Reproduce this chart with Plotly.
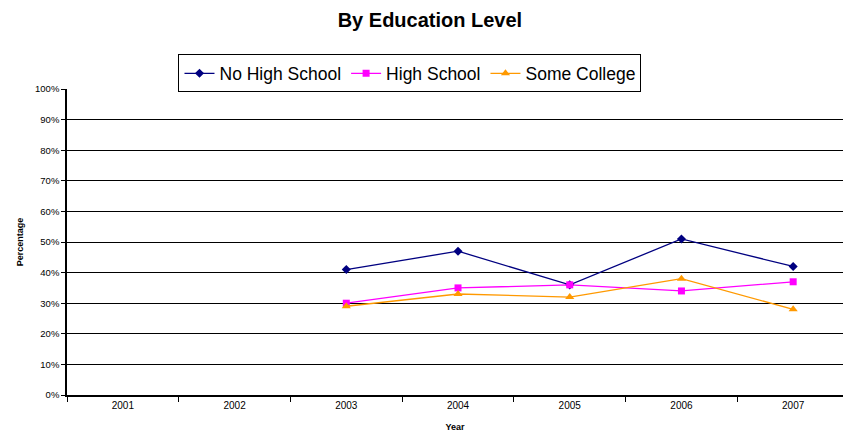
import plotly.graph_objects as go

years = ["2001", "2002", "2003", "2004", "2005", "2006", "2007"]
no_high_school = [None, None, 41, 47, 36, 51, 42]
high_school = [None, None, 30, 35, 36, 34, 37]
some_college = [None, None, 29, 33, 32, 38, 28]

y_ticks = list(range(0, 101, 10))
y_tick_labels = [f"{v}%" for v in y_ticks]

series = [
    ("No High School", no_high_school, "#000080", "diamond", 7),
    ("High School", high_school, "#FF00FF", "square", 7),
    ("Some College", some_college, "#FF9900", "triangle-up", 8),
]

fig = go.Figure()
for name, vals, color, symbol, size in series:
    fig.add_trace(go.Scatter(
        x=years, y=vals, name=name, mode="lines+markers",
        line=dict(color=color, width=1.3),
        marker=dict(symbol=symbol, size=size, color=color),
        connectgaps=False,
    ))

fig.update_layout(
    width=843, height=438,
    margin=dict(l=67, r=0, t=89, b=43),
    paper_bgcolor="white", plot_bgcolor="white",
    font=dict(family="Liberation Sans, Arial, sans-serif", color="black"),
    title=dict(text="<b>By Education Level</b>", x=0.51, xref="container",
               y=1 - 20 / 438, yref="container", yanchor="middle", xanchor="center",
               font=dict(size=20, color="black")),
    legend=dict(orientation="h", x=0.442, xanchor="center", y=1.113, yanchor="top",
                bordercolor="black", borderwidth=1, font=dict(size=17.5),
                itemwidth=30, tracegroupgap=0, itemsizing="trace"),
    showlegend=True,
)

fig.update_xaxes(
    type="category", categoryorder="array", categoryarray=years,
    range=[-0.5, 6.446], tickson="boundaries",
    ticks="outside", ticklen=5, tickcolor="black",
    showline=True, linecolor="black", linewidth=1.5,
    showgrid=False, zeroline=False,
    tickfont=dict(size=10),
    title=dict(text="<b>Year</b>", font=dict(size=9), standoff=14),
)

fig.update_yaxes(
    range=[0, 100], tickvals=y_ticks, ticktext=y_tick_labels,
    ticks="outside", ticklen=4, tickcolor="black",
    showline=True, linecolor="black", linewidth=1.5,
    showgrid=True, gridcolor="black", gridwidth=1,
    zeroline=False, tickfont=dict(size=9.5),
    title=dict(text="<b>Percentage</b>", font=dict(size=9), standoff=10),
)

fig.write_html("out.html")
